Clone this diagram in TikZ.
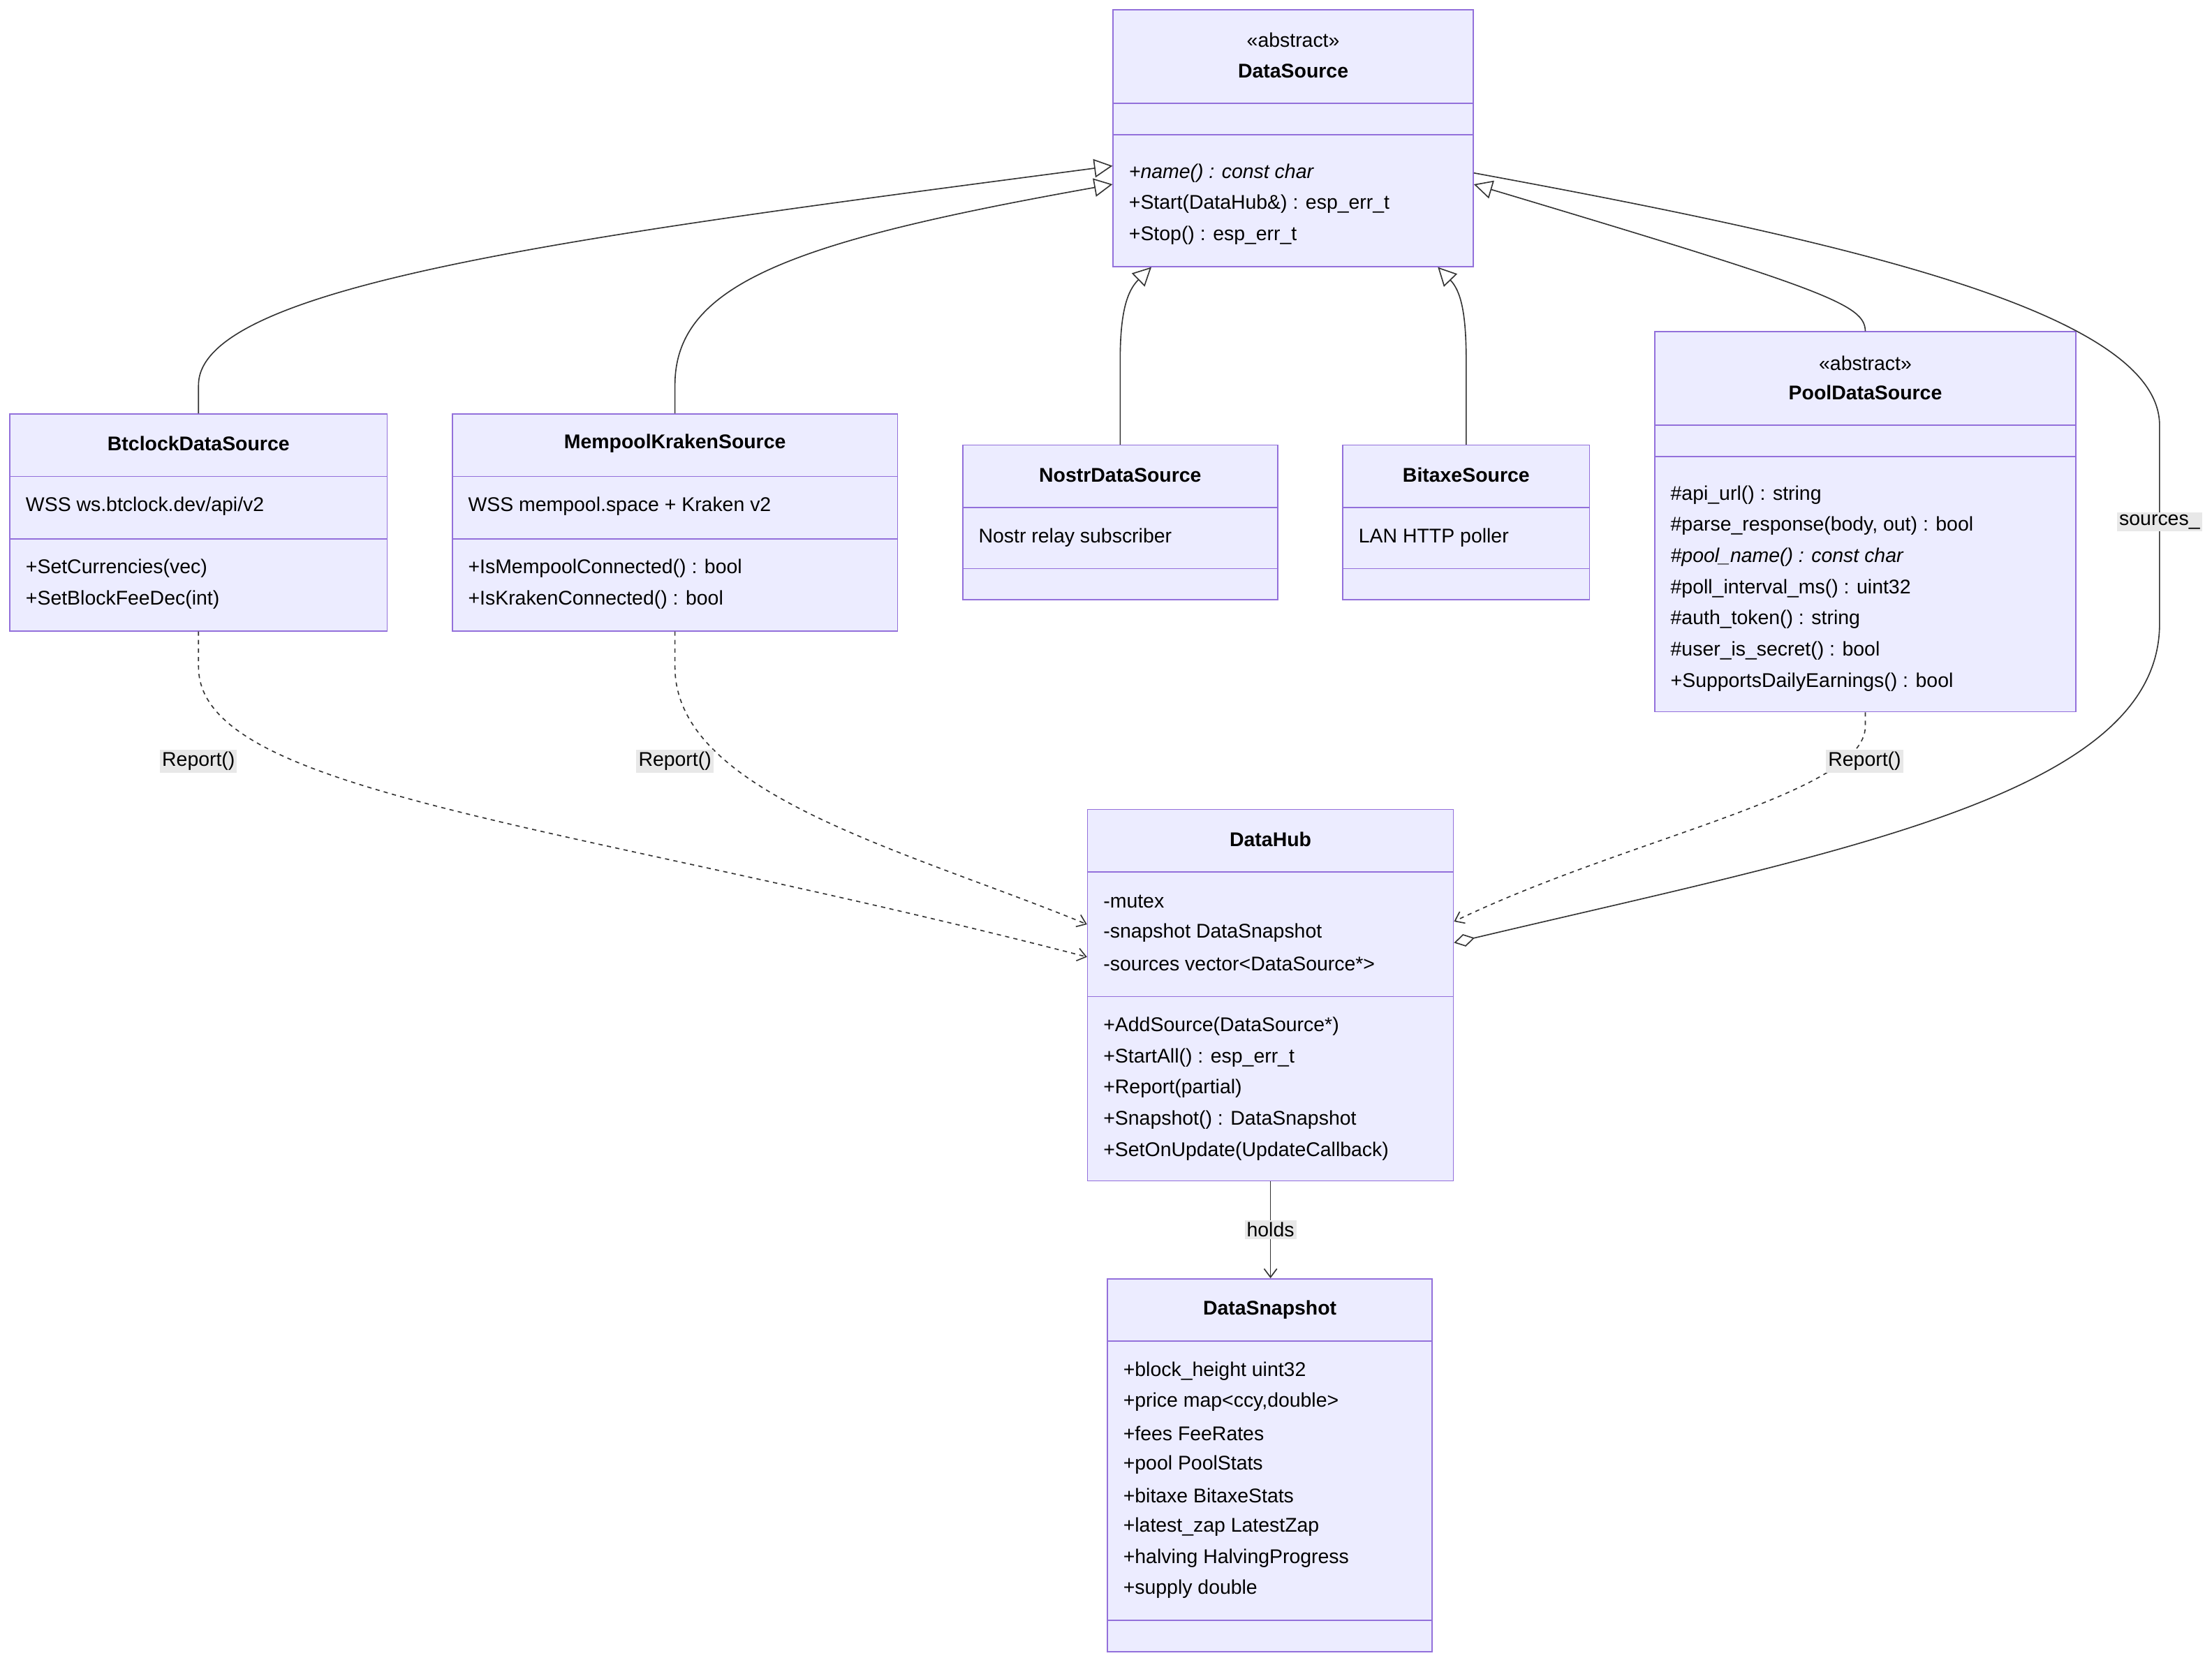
\documentclass[tikz,border=0pt]{standalone}
\usepackage{fontspec}
\setmainfont{Liberation Sans}
\usetikzlibrary{arrows.meta,positioning}
\definecolor{clsfill}{HTML}{ECECFF}
\definecolor{clsline}{HTML}{9370DB}
\definecolor{lblfill}{HTML}{E8E8E8}
\definecolor{edge}{HTML}{333333}
\tikzset{
  cls/.style={rectangle, draw=clsline, fill=clsfill, line width=0.8pt, inner sep=0pt},
  mem/.style={anchor=west, inner sep=0pt, font=\fontsize{14}{16}\selectfont},
  ttl/.style={inner sep=0pt, font=\fontsize{14}{16}\selectfont\bfseries},
  ster/.style={inner sep=0pt, font=\fontsize{14}{16}\selectfont},
  div/.style={draw=clsline, line width=0.8pt},
  lbl/.style={fill=lblfill, inner sep=1.5pt, font=\fontsize{14}{16}\selectfont},
  inh/.style={draw=edge, line width=0.8pt, -{Triangle[open, length=13pt, width=13pt, fill=white]}},
  dep/.style={draw=edge, line width=0.8pt, dashed, dash pattern=on 3pt off 3pt, -{Straight Barb[length=6pt, width=9pt]}},
  asc/.style={draw=edge, line width=0.8pt, -{Straight Barb[length=6pt, width=9pt]}},
  agg/.style={draw=edge, line width=0.8pt, -{Diamond[open, length=15pt, width=9pt, fill=white]}},
}
\begin{document}
\begin{tikzpicture}[x=1pt, y=-1pt]
\useasboundingbox[fill=white] (0,0) rectangle (1560,1174);

% DataSource
\node[cls, minimum width=254pt, minimum height=181pt] (ds) at (912,97.5) {};
\node[ster] at (912,28) {«abstract»};
\node[ttl] at (912,50) {DataSource};
\draw[div] (785,73) -- (1039,73);
\draw[div] (785,95) -- (1039,95);
\node[mem] at (796,122) {\itshape +name() : const char};
\node[mem] at (796,144) {+Start(DataHub\&) : esp\_err\_t};
\node[mem] at (796,166) {+Stop() : esp\_err\_t};

% BtclockDataSource
\node[cls, minimum width=266pt, minimum height=153pt] (btc) at (140,368.5) {};
\node[ttl] at (140,313) {BtclockDataSource};
\draw[div] (7,336) -- (273,336);
\node[mem] at (18,357) {WSS ws.btclock.dev/api/v2};
\draw[div] (7,380) -- (273,380);
\node[mem] at (18,401) {+SetCurrencies(vec)};
\node[mem] at (18,423) {+SetBlockFeeDec(int)};

% MempoolKrakenSource
\node[cls, minimum width=314pt, minimum height=153pt] (mks) at (476,368.5) {};
\node[ttl] at (476,313) {MempoolKrakenSource};
\draw[div] (319,336) -- (633,336);
\node[mem] at (330,357) {WSS mempool.space + Kraken v2};
\draw[div] (319,380) -- (633,380);
\node[mem] at (330,401) {+IsMempoolConnected() : bool};
\node[mem] at (330,423) {+IsKrakenConnected() : bool};

% NostrDataSource
\node[cls, minimum width=222pt, minimum height=109pt] (nds) at (790,368.5) {};
\node[ttl] at (790,335) {NostrDataSource};
\draw[div] (679,358) -- (901,358);
\node[mem] at (690,379) {Nostr relay subscriber};
\draw[div] (679,401) -- (901,401);

% BitaxeSource
\node[cls, minimum width=174pt, minimum height=109pt] (bxs) at (1034,368.5) {};
\node[ttl] at (1034,335) {BitaxeSource};
\draw[div] (947,358) -- (1121,358);
\node[mem] at (958,379) {LAN HTTP poller};
\draw[div] (947,401) -- (1121,401);

% PoolDataSource
\node[cls, minimum width=297pt, minimum height=268pt] (pds) at (1315.5,368) {};
\node[ster] at (1315.5,256) {«abstract»};
\node[ttl] at (1315.5,277) {PoolDataSource};
\draw[div] (1167,300) -- (1464,300);
\draw[div] (1167,322) -- (1464,322);
\node[mem] at (1178,349) {\#api\_url() : string};
\node[mem] at (1178,371) {\#parse\_response(body, out) : bool};
\node[mem] at (1178,393) {\itshape \#pool\_name() : const char};
\node[mem] at (1178,415) {\#poll\_interval\_ms() : uint32};
\node[mem] at (1178,437) {\#auth\_token() : string};
\node[mem] at (1178,459) {\#user\_is\_secret() : bool};
\node[mem] at (1178,481) {+SupportsDailyEarnings() : bool};

% DataHub
\node[cls, minimum width=258pt, minimum height=262pt] (hub) at (896,702) {};
\node[ttl] at (896,592) {DataHub};
\draw[div] (767,615) -- (1025,615);
\node[mem] at (778,636) {-mutex};
\node[mem] at (778,658) {-snapshot DataSnapshot};
\node[mem] at (778,680) {-sources vector<DataSource*>};
\draw[div] (767,703) -- (1025,703);
\node[mem] at (778,724) {+AddSource(DataSource*)};
\node[mem] at (778,746) {+StartAll() : esp\_err\_t};
\node[mem] at (778,768) {+Report(partial)};
\node[mem] at (778,790) {+Snapshot() : DataSnapshot};
\node[mem] at (778,812) {+SetOnUpdate(UpdateCallback)};

% DataSnapshot
\node[cls, minimum width=229pt, minimum height=263pt] (snap) at (895.5,1033.5) {};
\node[ttl] at (895.5,924) {DataSnapshot};
\draw[div] (781,946) -- (1010,946);
\node[mem] at (792,967) {+block\_height uint32};
\node[mem] at (792,989) {+price map<ccy,double>};
\node[mem] at (792,1011) {+fees FeeRates};
\node[mem] at (792,1033) {+pool PoolStats};
\node[mem] at (792,1055) {+bitaxe BitaxeStats};
\node[mem] at (792,1077) {+latest\_zap LatestZap};
\node[mem] at (792,1099) {+halving HalvingProgress};
\node[mem] at (792,1121) {+supply double};
\draw[div] (781,1143) -- (1010,1143);

% inheritance
\draw[inh] (btc.north) -- ++(0,-20) .. controls (140,200) and (420,165) .. (ds.west |- 0,117);
\draw[inh] (mks.north) -- ++(0,-20) .. controls (476,200) and (560,170) .. (ds.west |- 0,130);
\draw[inh] (nds.north) -- ++(0,-60) .. controls (790,220) and (795,205) .. (ds.south -| 812,0);
\draw[inh] (bxs.north) -- ++(0,-60) .. controls (1034,220) and (1030,205) .. (ds.south -| 1014,0);
\draw[inh] (pds.north) .. controls (1315,215) and (1290,205) .. (ds.east |- 0,130);

% aggregation
\draw[agg] (ds.east |- 0,122) .. controls (1300,170) and (1523,220) .. (1523,300) -- (1523,440)
  .. controls (1523,560) and (1300,600) .. (hub.east |- 0,665);
\node[lbl] at (1523,368) {sources\_};

% dependencies
\draw[dep] (btc.south) -- ++(0,25) .. controls (140,560) and (400,580) .. (hub.west |- 0,675);
\node[lbl] at (140,537) {Report()};
\draw[dep] (mks.south) -- ++(0,25) .. controls (476,560) and (640,600) .. (hub.west |- 0,652);
\node[lbl] at (476,537) {Report()};
\draw[dep] (pds.south) -- ++(0,10) .. controls (1315,560) and (1150,590) .. (hub.east |- 0,650);
\node[lbl] at (1315,537) {Report()};

% holds
\draw[asc] (hub.south -| 896,0) -- (snap.north -| 896,0) node[lbl, midway] {holds};
\end{tikzpicture}
\end{document}
